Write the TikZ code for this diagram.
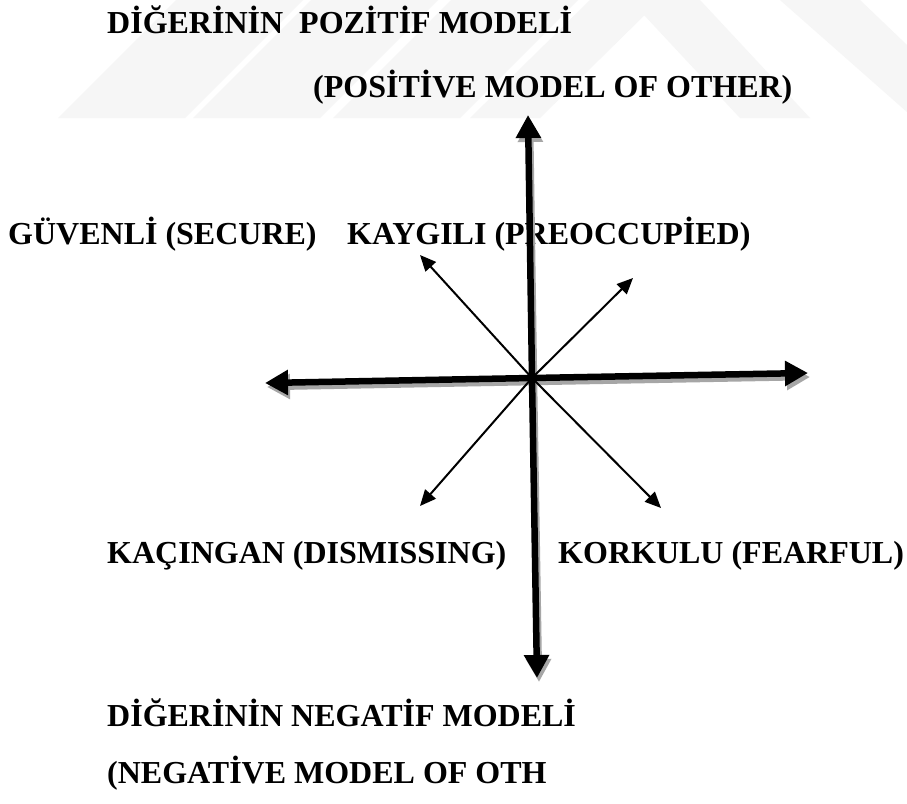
\documentclass[tikz,border=0pt]{standalone}
\usepackage{fontspec}
\setmainfont{Liberation Serif}
\usetikzlibrary{arrows.meta}

\begin{document}
\begin{tikzpicture}[x=1pt,y=-1pt,
  lbl/.style={anchor=base west,inner sep=0pt,font=\bfseries\fontsize{32}{38}\selectfont},
  axis/.style={line width=6.5pt,-{Triangle[length=23pt,width=24pt]}},
  diag/.style={line width=2pt,-{Triangle[length=16pt,width=14pt]}},
  wmark/.style={fill=gray!7}]
\useasboundingbox (0,0) rectangle (907,803);
\fill[white] (0,0) rectangle (907,803);
% faint watermark
\fill[wmark] (58,118)--(185,118)--(303,0)--(176,0)--cycle;
\fill[wmark] (193,118)--(320,118)--(438,0)--(311,0)--cycle;
\fill[wmark] (333,118)--(460,118)--(578,0)--(451,0)--cycle;
\fill[wmark] (470,118)--(540,118)--(660,0)--(590,0)--cycle;
\fill[wmark] (740,118)--(810,118)--(700,0)--(630,0)--cycle;
\fill[wmark] (780,0)--(860,0)--(907,45)--(907,112)--cycle;
% labels
\node[lbl] (postr) at (107,33) {DİĞERİNİN\ \ POZİTİF MODELİ};
\node[lbl] (posen) at (313,97) {(POSİTİVE MODEL OF OTHER)};
\node[lbl] (secure) at (8,244) {GÜVENLİ (SECURE)};
\node[lbl] (preocc) at (347,244) {KAYGILI (PREOCCUPİED)};
\node[lbl] (dismiss) at (107,563) {KAÇINGAN (DISMISSING)};
\node[lbl] (fearful) at (558,563) {KORKULU (FEARFUL)};
\node[lbl] (negtr) at (107,726) {DİĞERİNİN NEGATİF MODELİ};
\node[lbl] (negen) at (107,783) {(NEGATİVE MODEL OF OTH};
% axes
\coordinate (ctr) at (532,378);
\coordinate (up) at (528,115);
\coordinate (down) at (537,678);
\coordinate (left) at (265,383);
\coordinate (right) at (808,373);
\foreach \t in {up,down,left,right}
  \draw[axis,gray!70] ([xshift=2pt,yshift=-4pt]ctr) -- ([xshift=2pt,yshift=-4pt]\t);
\foreach \t in {up,down,left,right}
  \draw[axis] (ctr) -- (\t);
\coordinate (nw) at (420,255);
\coordinate (ne) at (633,278);
\coordinate (sw) at (420,506);
\coordinate (se) at (661,508);
\foreach \t in {nw,ne,sw,se}
  \draw[diag] (ctr) -- (\t);
\end{tikzpicture}
\end{document}
